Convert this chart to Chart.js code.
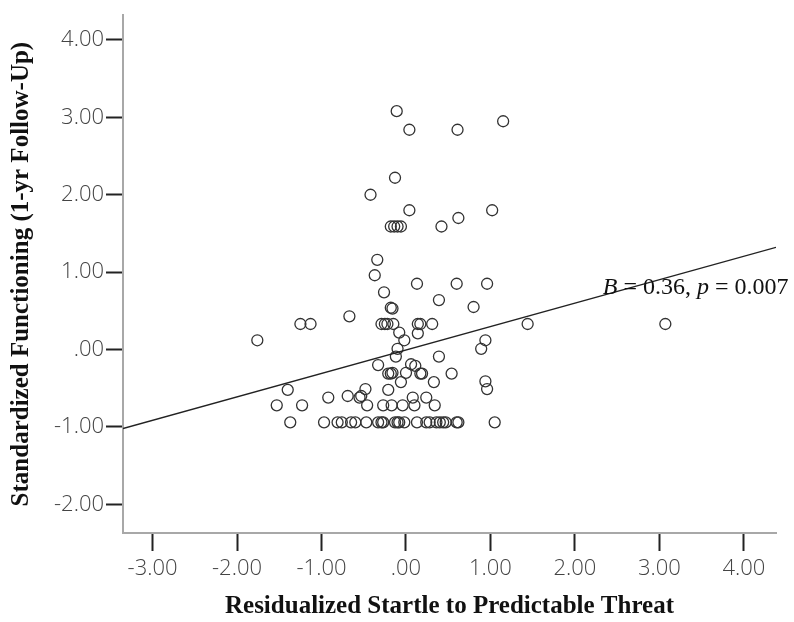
<html>
<head>
<meta charset="utf-8">
<title>Startle vs Functioning</title>
<script src="https://cdn.jsdelivr.net/npm/chart.js@4.4.1/dist/chart.umd.min.js"></script>
<style>
  body { margin: 0; background: #fff; }
  #wrap { width: 794px; height: 622px; }
</style>
</head>
<body>
<div id="wrap"><canvas id="myChart" width="794" height="622"></canvas></div>
<script>
// scatter points (x = residualized startle, y = standardized functioning)
var ptX = [-0.11, 0.04, 0.61, 1.15, -0.13, -0.42, 0.04, 1.02, 0.62, 0.42,
  -0.18, -0.14, -0.10, -0.06, -0.34, -0.37, 0.13, 0.60, 0.96, -0.26,
  0.39, 0.80, -0.18, -0.16, -0.29, -0.25, -0.22, -0.15, 0.14, 0.17,
  0.31, -1.25, -1.13, -0.67, -1.76, 1.44, 3.07, 0.14, -0.08, -0.02,
  -0.10, -0.12, 0.39, 0.94, 0.89, -0.33, 0.06, 0.11, -0.21, -0.18,
  -0.16, 0.00, 0.17, 0.19, 0.54, -0.06, 0.33, 0.94, 0.96, -0.48,
  -0.21, -0.55, -0.53, -0.69, -0.92, 0.08, 0.24, -1.40, -1.53, -1.23,
  -0.46, -0.27, -0.17, -0.04, 0.10, 0.34,
  -1.37, -0.97, -0.81, -0.76, -0.65, -0.60, -0.47, -0.33, -0.29, -0.27,
  -0.13, -0.10, -0.08, -0.02, 0.13, 0.24, 0.28, 0.36, 0.40, 0.44,
  0.47, 0.60, 0.62, 1.05];
var ptY = [3.08, 2.84, 2.84, 2.95, 2.22, 2.00, 1.80, 1.80, 1.70, 1.59,
  1.59, 1.59, 1.59, 1.59, 1.16, 0.96, 0.85, 0.85, 0.85, 0.74,
  0.64, 0.55, 0.54, 0.53, 0.33, 0.33, 0.33, 0.33, 0.33, 0.33,
  0.33, 0.33, 0.33, 0.43, 0.12, 0.33, 0.33, 0.21, 0.22, 0.12,
  0.01, -0.09, -0.09, 0.12, 0.01, -0.20, -0.19, -0.21, -0.31, -0.31,
  -0.30, -0.30, -0.31, -0.31, -0.31, -0.42, -0.42, -0.41, -0.51, -0.51,
  -0.52, -0.62, -0.60, -0.60, -0.62, -0.62, -0.62, -0.52, -0.72, -0.72,
  -0.72, -0.72, -0.72, -0.72, -0.72, -0.72,
  -0.94, -0.94, -0.94, -0.94, -0.94, -0.94, -0.94, -0.94, -0.94, -0.94,
  -0.94, -0.94, -0.94, -0.94, -0.94, -0.94, -0.94, -0.94, -0.94, -0.94,
  -0.94, -0.94, -0.94, -0.94];

// fit line, read at both ends of the x axis
var fitX = [-3.35, 4.38];
var fitY = [-1.02, 1.32];

var xTicks = [-3, -2, -1, 0, 1, 2, 3, 4];
var yTicks = [-2, -1, 0, 1, 2, 3, 4];

var xTitle = 'Residualized Startle to Predictable Threat';
var yTitle = 'Standardized Functioning (1-yr Follow-Up)';
var noteParts = [['B', true], [' = 0.36, ', false], ['p', true], [' = 0.007', false]];
var noteAt = [2.33, 0.72];

var points = [];
for (var i = 0; i < ptX.length; i++) points.push({x: ptX[i], y: ptY[i]});
var fitPts = [];
for (var j = 0; j < fitX.length; j++) fitPts.push({x: fitX[j], y: fitY[j]});

function fmt(v) {
  if (v === 0) return '.00';
  return v.toFixed(2);
}

var notePlugin = {
  id: 'note',
  afterDatasetsDraw: function(chart) {
    var ctx = chart.ctx;
    var x = chart.scales.x.getPixelForValue(noteAt[0]);
    var y = chart.scales.y.getPixelForValue(noteAt[1]);
    ctx.save();
    ctx.fillStyle = '#111';
    ctx.textBaseline = 'alphabetic';
    ctx.textAlign = 'left';
    noteParts.forEach(function(p) {
      ctx.font = (p[1] ? 'italic ' : '') + '24px "Liberation Serif", "Times New Roman", serif';
      ctx.fillText(p[0], x, y);
      x += ctx.measureText(p[0]).width;
    });
    ctx.restore();
  }
};

var tickFont = {family: '"Open Sans", "Liberation Sans", Arial, sans-serif', size: 22, weight: 300};
var titleFont = {family: '"Liberation Serif", "Times New Roman", serif', size: 25, weight: 'bold'};

new Chart(document.getElementById('myChart').getContext('2d'), {
  type: 'scatter',
  data: {
    datasets: [
      {
        label: 'fit',
        type: 'line',
        data: fitPts,
        borderColor: '#222',
        borderWidth: 1.3,
        pointRadius: 0,
        fill: false
      },
      {
        label: 'cases',
        data: points,
        pointStyle: 'circle',
        pointRadius: 5.5,
        pointBorderWidth: 1.3,
        pointBorderColor: '#333',
        pointBackgroundColor: 'rgba(0,0,0,0)'
      }
    ]
  },
  options: {
    responsive: false,
    devicePixelRatio: 1,
    animation: false,
    layout: {padding: {top: 12, right: 18, left: 0, bottom: 0}},
    plugins: {legend: {display: false}, tooltip: {enabled: false}},
    scales: {
      x: {
        type: 'linear',
        min: -3.35,
        max: 4.38,
        afterBuildTicks: function(s) { s.ticks = xTicks.map(function(v) { return {value: v}; }); },
        afterFit: function(s) { s.height = 89; },
        border: {display: true, color: '#a8a8a8', width: 2},
        grid: {drawOnChartArea: false, drawTicks: true, tickLength: 18, tickColor: '#222', tickWidth: 2},
        ticks: {color: '#444', font: tickFont, padding: 5, maxRotation: 0, callback: fmt},
        title: {display: true, text: xTitle, color: '#111', font: titleFont, padding: {top: 2, bottom: 0}}
      },
      y: {
        type: 'linear',
        min: -2.37,
        max: 4.32,
        afterBuildTicks: function(s) { s.ticks = yTicks.map(function(v) { return {value: v}; }); },
        afterFit: function(s) { s.width = 123; },
        border: {display: true, color: '#a8a8a8', width: 2},
        grid: {drawOnChartArea: false, drawTicks: true, tickLength: 17, tickColor: '#222', tickWidth: 2},
        ticks: {color: '#444', font: tickFont, padding: 2, callback: fmt},
        title: {display: true, text: yTitle, color: '#111', font: titleFont, padding: {top: 7, bottom: 4}}
      }
    }
  },
  plugins: [notePlugin]
});
</script>
</body>
</html>
